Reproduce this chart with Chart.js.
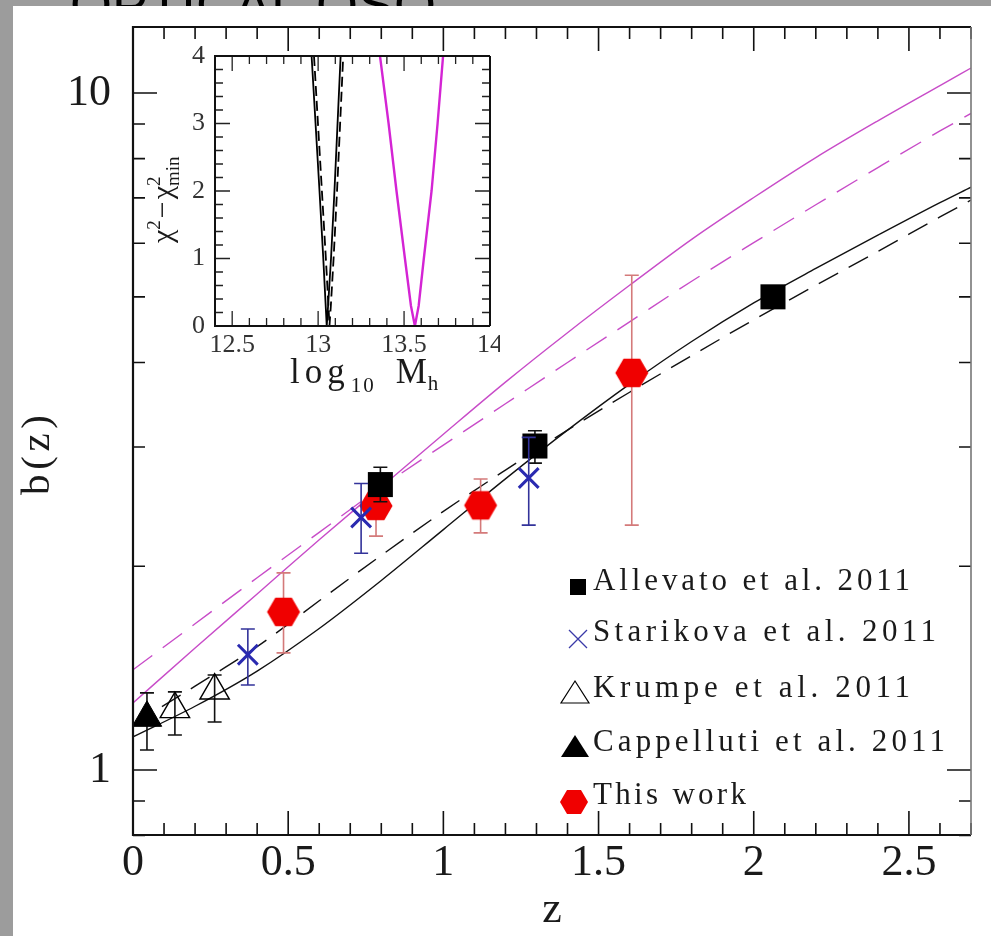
<!DOCTYPE html>
<html>
<head>
<meta charset="utf-8">
<script src="https://cdn.jsdelivr.net/npm/chart.js@4.4.1/dist/chart.umd.min.js"></script>
<style>
  html, body { margin: 0; padding: 0; background: #fff; }
  #wrap { position: relative; width: 991px; height: 936px; overflow: hidden; }
  #main { position: absolute; left: 0; top: 0; }
  #inset { position: absolute; left: 140px; top: 40px; }
</style>
</head>
<body>
<div id="wrap">
  <canvas id="main" width="991" height="936"></canvas>
  <canvas id="inset" width="360" height="360"></canvas>
</div>
<script>
// ---- bias model curves b(z) for two halo masses (solid / dashed models) ----
const curveZ        = [0, 0.2, 0.4, 0.6, 0.8, 1.0, 1.2, 1.4, 1.6, 1.8, 2.0, 2.2, 2.4, 2.6, 2.7];
const biasHighSolid = [1.256, 1.514, 1.820, 2.188, 2.618, 3.133, 3.741, 4.426, 5.200, 6.080, 7.010, 8.030, 9.100, 10.26, 10.89];
const biasHighDash  = [1.406, 1.644, 1.923, 2.244, 2.618, 3.020, 3.475, 3.999, 4.592, 5.272, 6.012, 6.839, 7.762, 8.790, 9.33];
const biasLowSolid  = [1.119, 1.242, 1.400, 1.618, 1.905, 2.265, 2.692, 3.177, 3.715, 4.295, 4.898, 5.508, 6.166, 6.887, 7.261];
const biasLowDash   = [1.167, 1.330, 1.521, 1.778, 2.075, 2.410, 2.773, 3.177, 3.614, 4.093, 4.624, 5.200, 5.834, 6.561, 6.950];

// ---- measurements ----
const allevatoZ  = [0.797, 1.295, 2.062];
const allevatoB  = [2.64, 3.01, 5.00];
const allevatoLo = [2.49, 2.84, 4.85];
const allevatoHi = [2.80, 3.17, 5.15];

const starikovaZ  = [0.37, 0.735, 1.275];
const starikovaB  = [1.48, 2.36, 2.70];
const starikovaLo = [1.335, 2.09, 2.30];
const starikovaHi = [1.615, 2.65, 3.10];

const krumpeZ  = [0.135, 0.263];
const krumpeB  = [1.23, 1.31];
const krumpeLo = [1.126, 1.177];
const krumpeHi = [1.304, 1.381];

const cappellutiZ  = [0.045];
const cappellutiB  = [1.194];
const cappellutiLo = [1.07];
const cappellutiHi = [1.30];

const thisWorkZ  = [0.485, 0.783, 1.12, 1.607];
const thisWorkB  = [1.712, 2.455, 2.46, 3.86];
const thisWorkLo = [1.489, 2.215, 2.24, 2.30];
const thisWorkHi = [1.955, 2.62, 2.69, 5.38];

// ---- axis labels ----
const zTickLabels = [0, 0.5, 1, 1.5, 2, 2.5];
const bTickLabels = [1, 10];
const massTickLabels = [12.5, 13, 13.5, 14];
const chiTickLabels = [0, 1, 2, 3, 4];

// ---- inset: chi^2 - chi^2_min against log10 M_h ----
const massLowSolid  = [12.962, 12.985, 13.008, 13.03, 13.044, 13.05, 13.058, 13.075, 13.095, 13.113, 13.131];
const chiLowSolid   = [4, 3, 2, 1, 0.3, 0, 0.3, 1, 2, 3, 4];
const massLowDash   = [12.976, 12.999, 13.022, 13.045, 13.06, 13.066, 13.074, 13.09, 13.11, 13.128, 13.146];
const chiLowDash    = [4, 3, 2, 1, 0.3, 0, 0.3, 1, 2, 3, 4];
const massHighSolid = [13.36, 13.41, 13.456, 13.505, 13.54, 13.563, 13.585, 13.615, 13.66, 13.695, 13.727];
const chiHighSolid  = [4, 3, 2, 1, 0.3, 0, 0.3, 1, 2, 3, 4];

const SERIF = '"Liberation Serif", "Times New Roman", serif';
const zip = (xs, ys) => xs.map((v, i) => ({ x: v, y: ys[i] }));

function hexPath(g, cx, cy, r) {
  g.beginPath();
  for (let k = 0; k < 6; k++) {
    const a = Math.PI / 3 * k;
    const px = cx + r * Math.cos(a), py = cy + r * Math.sin(a);
    if (k === 0) g.moveTo(px, py); else g.lineTo(px, py);
  }
  g.closePath();
}
const hexMarker = (() => {
  const c = document.createElement('canvas');
  c.width = 36; c.height = 32;
  const g = c.getContext('2d');
  hexPath(g, 18, 16, 16.5);
  g.fillStyle = '#f00000';
  g.fill();
  return c;
})();

// fit text to a given width by spreading the letters
function spreadText(ctx, text, x, y, width) {
  ctx.letterSpacing = '0px';
  const w0 = ctx.measureText(text).width;
  const sp = width ? Math.max(0, (width - w0) / Math.max(1, text.length - 1)) : 0;
  ctx.letterSpacing = sp + 'px';
  ctx.fillText(text, x, y);
  ctx.letterSpacing = '0px';
}

// page backdrop, clipped title strip
const backdrop = {
  id: 'backdrop',
  beforeDraw(chart) {
    const ctx = chart.ctx;
    ctx.save();
    ctx.fillStyle = '#9c9c9c';
    ctx.fillRect(0, 0, 991, 936);
    ctx.beginPath();
    ctx.rect(0, 0, 991, 6);
    ctx.clip();
    ctx.fillStyle = '#000';
    ctx.font = '54px "Liberation Sans", Arial, sans-serif';
    ctx.textBaseline = 'alphabetic';
    ctx.textAlign = 'left';
    spreadText(ctx, 'OPTICAL QSO', 70, 23, 352);
    ctx.restore();
    ctx.save();
    ctx.fillStyle = '#fff';
    ctx.fillRect(13, 6, 991 - 13, 936 - 6);
    ctx.restore();
  }
};

// vertical error bars, drawn just below each dataset's markers
const errorBars = {
  id: 'errorBars',
  beforeDatasetDraw(chart, args) {
    const ds = chart.data.datasets[args.index];
    if (!ds.errLo) return;
    const { ctx } = chart;
    const xs = chart.scales[ds.xAxisID || 'x'], ys = chart.scales[ds.yAxisID || 'y'];
    ctx.save();
    ctx.strokeStyle = ds.errColor;
    ctx.lineWidth = 1.6;
    const cap = 7;
    ds.data.forEach((p, i) => {
      const px = xs.getPixelForValue(p.x);
      const yl = ys.getPixelForValue(ds.errLo[i]);
      const yh = ys.getPixelForValue(ds.errHi[i]);
      ctx.beginPath();
      ctx.moveTo(px, yl); ctx.lineTo(px, yh);
      ctx.moveTo(px - cap, yl); ctx.lineTo(px + cap, yl);
      ctx.moveTo(px - cap, yh); ctx.lineTo(px + cap, yh);
      ctx.stroke();
    });
    ctx.restore();
  }
};

// box frame with major/minor ticks on all four sides
function frameTicks(opts) {
  return {
    id: 'frameTicks',
    afterDatasetsDraw(chart) {
      const { ctx, chartArea: a } = chart;
      const xs = chart.scales.x, ys = chart.scales.y;
      ctx.save();
      ctx.lineWidth = opts.tickWidth;
      ctx.strokeStyle = opts.tickColor;
      ctx.beginPath();
      const xt = (vals, len) => vals.forEach(v => {
        const p = xs.getPixelForValue(v);
        ctx.moveTo(p, a.bottom); ctx.lineTo(p, a.bottom - len);
        ctx.moveTo(p, a.top); ctx.lineTo(p, a.top + len);
      });
      const yt = (vals, len) => vals.forEach(v => {
        const p = ys.getPixelForValue(v);
        ctx.moveTo(a.left, p); ctx.lineTo(a.left + len, p);
        ctx.moveTo(a.right, p); ctx.lineTo(a.right - len, p);
      });
      xt(opts.xMajor, opts.major); xt(opts.xMinor, opts.minor);
      yt(opts.yMajor, opts.major); yt(opts.yMinor, opts.minor);
      ctx.stroke();
      ctx.lineWidth = opts.frameWidth;
      ctx.strokeStyle = opts.frameColor;
      ctx.beginPath();
      ctx.moveTo(a.right, a.top); ctx.lineTo(a.left, a.top); ctx.lineTo(a.left, a.bottom); ctx.lineTo(a.right, a.bottom);
      ctx.stroke();
      ctx.strokeStyle = opts.rightColor;
      ctx.lineWidth = opts.rightWidth;
      ctx.beginPath();
      ctx.moveTo(a.right, a.top); ctx.lineTo(a.right, a.bottom);
      ctx.stroke();
      ctx.restore();
    }
  };
}

const range = (a, b, s) => { const r = []; for (let v = a; v <= b + 1e-9; v += s) r.push(+v.toFixed(4)); return r; };

// keep the plot box exactly where the layout puts it (no label overhang padding)
const noOverhang = s => { s.paddingTop = 0; s.paddingBottom = 0; s.paddingLeft = 0; s.paddingRight = 0; };

// main axis titles and legend
const mainDecor = {
  id: 'mainDecor',
  afterDraw(chart) {
    const ctx = chart.ctx;
    ctx.save();
    ctx.fillStyle = '#1a1a1a';
    ctx.font = '44px ' + SERIF;
    ctx.textAlign = 'center';
    ctx.textBaseline = 'middle';
    ctx.fillText('z', 552, 910);
    ctx.save();
    ctx.translate(38, 455);
    ctx.rotate(-Math.PI / 2);
    ctx.textAlign = 'left';
    ctx.font = '41px ' + SERIF;
    spreadText(ctx, 'b(z)', -40, 0, 80);
    ctx.restore();

    // legend
    const rows = [
      { text: 'Allevato et al. 2011',   y: 590, w: 317, mark: 'square' },
      { text: 'Starikova et al. 2011',  y: 641, w: 343, mark: 'cross' },
      { text: 'Krumpe et al. 2011',     y: 697, w: 317, mark: 'openTri' },
      { text: 'Cappelluti et al. 2011', y: 751, w: 352, mark: 'fillTri' },
      { text: 'This work',              y: 804, w: 153, mark: 'hex' }
    ];
    ctx.font = '31px ' + SERIF;
    ctx.textAlign = 'left';
    ctx.textBaseline = 'alphabetic';
    rows.forEach(r => {
      const mx = 578, my = r.y - 4;
      ctx.fillStyle = '#000';
      ctx.strokeStyle = '#000';
      if (r.mark === 'square') {
        ctx.fillRect(mx - 8, my - 7, 16, 16);
      } else if (r.mark === 'cross') {
        ctx.strokeStyle = '#3a3aa8'; ctx.lineWidth = 1.3;
        ctx.beginPath();
        ctx.moveTo(mx - 9, my - 7); ctx.lineTo(mx + 9, my + 11);
        ctx.moveTo(mx + 9, my - 7); ctx.lineTo(mx - 9, my + 11);
        ctx.stroke();
      } else if (r.mark === 'openTri' || r.mark === 'fillTri') {
        ctx.beginPath();
        ctx.moveTo(mx - 3, my - 12); ctx.lineTo(mx + 11, my + 10); ctx.lineTo(mx - 17, my + 10); ctx.closePath();
        if (r.mark === 'fillTri') ctx.fill(); else { ctx.lineWidth = 1.2; ctx.stroke(); }
      } else {
        hexPath(ctx, mx - 4, my + 2, 14);
        ctx.fillStyle = '#f00000'; ctx.fill();
      }
      ctx.fillStyle = '#1a1a1a';
      spreadText(ctx, r.text, 593, r.y, r.w);
    });
    ctx.restore();
  }
};

const mainChart = new Chart(document.getElementById('main'), {
  type: 'scatter',
  data: {
    datasets: [
      { label: 'high mass, model A', data: zip(curveZ, biasHighSolid), showLine: true, pointRadius: 0,
        borderColor: '#c84cc8', borderWidth: 1.4, cubicInterpolationMode: 'monotone', order: 60 },
      { label: 'high mass, model B', data: zip(curveZ, biasHighDash), showLine: true, pointRadius: 0,
        borderColor: '#c84cc8', borderWidth: 1.4, borderDash: [24, 13], cubicInterpolationMode: 'monotone', order: 60 },
      { label: 'low mass, model A', data: zip(curveZ, biasLowSolid), showLine: true, pointRadius: 0,
        borderColor: '#111', borderWidth: 1.4, cubicInterpolationMode: 'monotone', order: 60 },
      { label: 'low mass, model B', data: zip(curveZ, biasLowDash), showLine: true, pointRadius: 0,
        borderColor: '#111', borderWidth: 1.4, borderDash: [22, 12], cubicInterpolationMode: 'monotone', order: 60 },
      { label: 'This work', data: zip(thisWorkZ, thisWorkB), pointStyle: hexMarker,
        errLo: thisWorkLo, errHi: thisWorkHi, errColor: '#d47a7a', order: 40 },
      { label: 'Allevato et al. 2011', data: zip(allevatoZ, allevatoB), pointStyle: 'rect', pointRadius: 17.7,
        backgroundColor: '#000', borderColor: '#000', borderWidth: 0,
        errLo: allevatoLo, errHi: allevatoHi, errColor: '#111', order: 30 },
      { label: 'Starikova et al. 2011', data: zip(starikovaZ, starikovaB), pointStyle: 'crossRot', pointRadius: 14,
        borderColor: '#2a2ab0', borderWidth: 3,
        errLo: starikovaLo, errHi: starikovaHi, errColor: '#33339a', order: 20 },
      { label: 'Krumpe et al. 2011', data: zip(krumpeZ, krumpeB), pointStyle: 'triangle', pointRadius: 17,
        backgroundColor: 'rgba(0,0,0,0)', borderColor: '#000', borderWidth: 1.4,
        errLo: krumpeLo, errHi: krumpeHi, errColor: '#111', order: 15 },
      { label: 'Cappelluti et al. 2011', data: zip(cappellutiZ, cappellutiB), pointStyle: 'triangle', pointRadius: 17,
        backgroundColor: '#000', borderColor: '#000', borderWidth: 1,
        errLo: cappellutiLo, errHi: cappellutiHi, errColor: '#111', order: 10 }
    ]
  },
  options: {
    responsive: false,
    animation: false,
    devicePixelRatio: 1,
    layout: { padding: { left: 0, top: 27, right: 20, bottom: 0 } },
    plugins: { legend: { display: false }, tooltip: { enabled: false } },
    scales: {
      x: {
        type: 'linear', min: 0, max: 2.7, bounds: 'data',
        grid: { display: false, drawTicks: false }, border: { display: false },
        afterBuildTicks: s => { s.ticks = zTickLabels.map(v => ({ value: v })); },
        afterFit: s => { s.height = 101; noOverhang(s); },
        ticks: { autoSkip: false, maxRotation: 0, padding: 2, color: '#1a1a1a',
                 font: { family: SERIF, size: 44 }, callback: v => String(v) }
      },
      y: {
        type: 'logarithmic', min: 0.8015, max: 12.52, bounds: 'data',
        grid: { display: false, drawTicks: false }, border: { display: false },
        afterBuildTicks: s => { s.ticks = bTickLabels.map(v => ({ value: v })); },
        afterFit: s => { s.width = 133; noOverhang(s); },
        ticks: { autoSkip: false, padding: 22, color: '#1a1a1a',
                 font: { family: SERIF, size: 44 }, callback: v => String(v) }
      }
    }
  },
  plugins: [backdrop, errorBars, frameTicks({
    xMajor: zTickLabels, xMinor: range(0, 2.7, 0.1),
    yMajor: bTickLabels, yMinor: [0.8, 0.9, 2, 3, 4, 5, 6, 7, 8, 9],
    major: 24, minor: 12, tickWidth: 1.6, tickColor: '#111',
    frameWidth: 2.2, frameColor: '#111', rightColor: '#777', rightWidth: 1.6
  }), mainDecor]
});

// inset axis titles
const insetDecor = {
  id: 'insetDecor',
  afterDraw(chart) {
    const ctx = chart.ctx;
    ctx.save();
    ctx.fillStyle = '#1a1a1a';
    ctx.textBaseline = 'alphabetic';
    ctx.textAlign = 'left';
    // x title: log10 Mh
    let x = 150, y = 343;
    ctx.font = '35px ' + SERIF; ctx.letterSpacing = '5px';
    ctx.fillText('log', x, y); x += ctx.measureText('log').width + 1;
    ctx.font = '21px ' + SERIF; ctx.letterSpacing = '2px';
    ctx.fillText('10', x, y + 9); x += ctx.measureText('10').width + 20;
    ctx.font = '35px ' + SERIF; ctx.letterSpacing = '0px';
    ctx.fillText('M', x, y); x += ctx.measureText('M').width + 1;
    ctx.font = '21px ' + SERIF;
    ctx.fillText('h', x, y + 7);
    // y title: chi^2 - chi^2_min (rotated)
    ctx.translate(22, 151);
    ctx.rotate(-Math.PI / 2);
    let t = -52;
    const big = '30px ' + SERIF, small = '19px ' + SERIF;
    ctx.font = big; ctx.fillText('χ', t, 10); t += ctx.measureText('χ').width;
    ctx.font = small; ctx.fillText('2', t, -2); t += ctx.measureText('2').width + 2;
    ctx.font = big; ctx.fillText('−', t, 10); t += ctx.measureText('−').width + 2;
    ctx.fillText('χ', t, 10); const tx = t + ctx.measureText('χ').width;
    ctx.font = small; ctx.fillText('2', tx, -2); ctx.fillText('min', tx, 17);
    ctx.restore();
  }
};

const insetChart = new Chart(document.getElementById('inset'), {
  type: 'scatter',
  data: {
    datasets: [
      { label: 'low mass, model A', data: zip(massLowSolid, chiLowSolid), showLine: true, pointRadius: 0,
        borderColor: '#000', borderWidth: 1.8 },
      { label: 'low mass, model B', data: zip(massLowDash, chiLowDash), showLine: true, pointRadius: 0,
        borderColor: '#000', borderWidth: 1.8, borderDash: [10, 5] },
      { label: 'high mass', data: zip(massHighSolid, chiHighSolid), showLine: true, pointRadius: 0,
        borderColor: '#d424d4', borderWidth: 2.4 }
    ]
  },
  options: {
    responsive: false,
    animation: false,
    devicePixelRatio: 1,
    layout: { padding: { left: 0, top: 16, right: 10, bottom: 0 } },
    plugins: { legend: { display: false }, tooltip: { enabled: false } },
    scales: {
      x: {
        type: 'linear', min: 12.4, max: 14, bounds: 'data',
        grid: { display: false, drawTicks: false }, border: { display: false },
        afterBuildTicks: s => { s.ticks = massTickLabels.map(v => ({ value: v })); },
        afterFit: s => { s.height = 74; noOverhang(s); },
        ticks: { autoSkip: false, maxRotation: 0, padding: 4, color: '#333',
                 font: { family: SERIF, size: 26 }, callback: v => String(v) }
      },
      y: {
        type: 'linear', min: 0, max: 4, bounds: 'data',
        grid: { display: false, drawTicks: false }, border: { display: false },
        afterBuildTicks: s => { s.ticks = chiTickLabels.map(v => ({ value: v })); },
        afterFit: s => { s.width = 75; noOverhang(s); },
        ticks: { autoSkip: false, padding: 10, color: '#333',
                 font: { family: SERIF, size: 26 }, callback: v => String(v) }
      }
    }
  },
  plugins: [frameTicks({
    xMajor: massTickLabels, xMinor: range(12.4, 14, 0.1),
    yMajor: chiTickLabels, yMinor: range(0, 4, 0.2),
    major: 15, minor: 8, tickWidth: 1.3, tickColor: '#222',
    frameWidth: 2, frameColor: '#111', rightColor: '#111', rightWidth: 2
  }), insetDecor]
});
</script>
</body>
</html>
